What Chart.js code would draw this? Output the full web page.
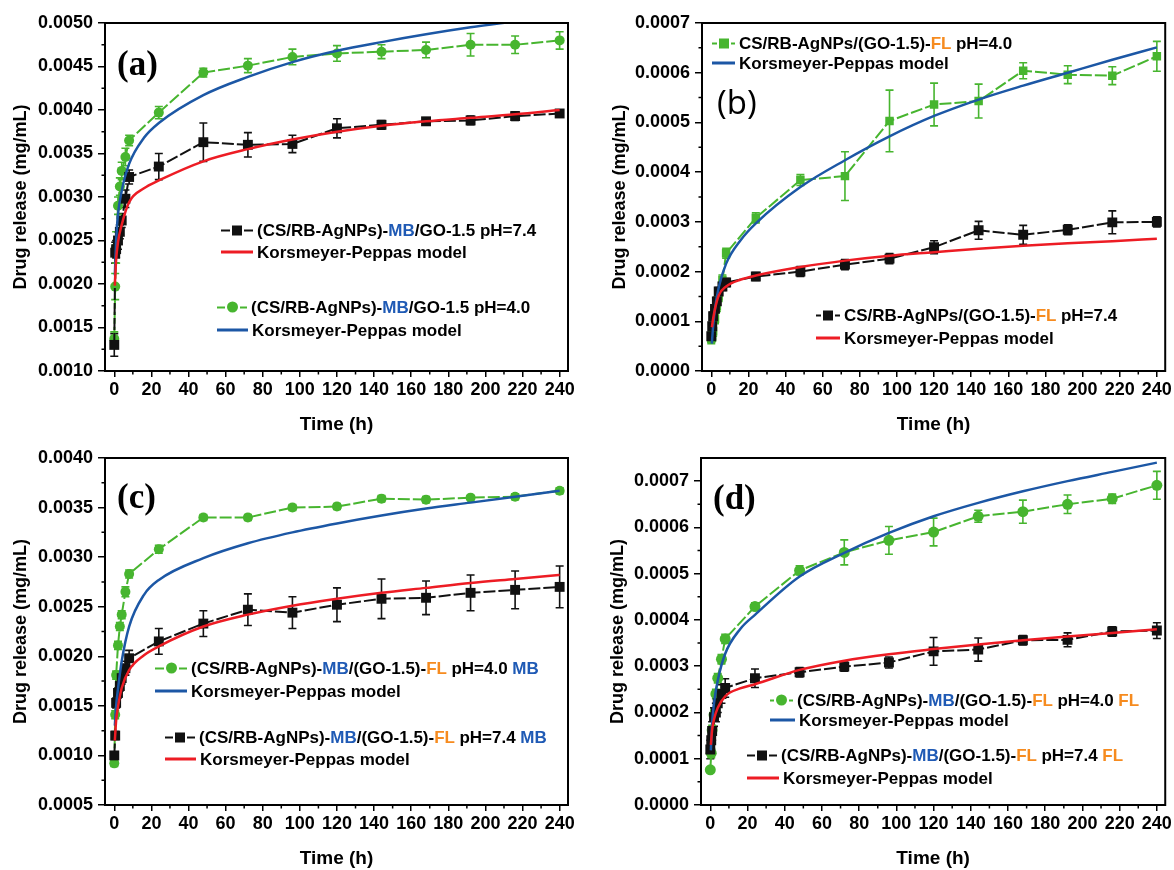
<!DOCTYPE html>
<html>
<head>
<meta charset="utf-8">
<script src="https://cdn.jsdelivr.net/npm/chart.js@4.4.1/dist/chart.umd.min.js"></script>
<style>
  html, body { margin: 0; padding: 0; background: #fff; overflow: hidden; }
  #wrap { position: relative; width: 1174px; height: 870px; font-family: "Liberation Sans", Arial, sans-serif; }
  #wrap canvas { position: absolute; }
  .lg { position: absolute; display: flex; align-items: center; font-weight: bold; font-size: 17px;
        white-space: nowrap; transform: translateY(-50%); color: #000; line-height: 1; }
  .smp { display: flex; align-items: center; flex: none; }
  .mb { color: #1f5ab5; }
  .fl { color: #f68b1f; }
  .tag { position: absolute; transform: translateY(-50%); line-height: 1; color: #000; }
  .serif { font-family: "Liberation Serif", "Times New Roman", serif; font-weight: bold; font-size: 35px; }
  .sans { font-family: "Open Sans", "Noto Sans", sans-serif; font-size: 33px; }
</style>
</head>
<body>
<div id="wrap">
  <canvas id="chartA" width="587" height="436" style="left:0;top:0"></canvas>
  <canvas id="chartB" width="587" height="436" style="left:587px;top:0"></canvas>
  <canvas id="chartC" width="587" height="436" style="left:0;top:434px"></canvas>
  <canvas id="chartD" width="587" height="436" style="left:587px;top:434px"></canvas>
  <div class="tag serif" style="left:117px;top:63px">(a)</div>
  <div class="tag sans" style="left:717px;top:101px">(b)</div>
  <div class="tag serif" style="left:117px;top:496px">(c)</div>
  <div class="tag serif" style="left:713px;top:497px">(d)</div>
</div>
<script>
// sampling times (h) of the measured points
const T = [0, 0.5, 1, 2, 3, 4, 6, 8, 24, 48, 72, 96, 120, 144, 168, 192, 216, 240];
const FIT_T = [0.3, 1, 2, 4, 8, 16, 24, 48, 72, 96, 120, 144, 168, 192, 216, 240];

const X_TICKS = [0, 20, 40, 60, 80, 100, 120, 140, 160, 180, 200, 220, 240];
const X_MINOR = [10, 30, 50, 70, 90, 110, 130, 150, 170, 190, 210, 230];

// (a) MB/GO-1.5
const A_Y_TICKS = [0.001, 0.0015, 0.002, 0.0025, 0.003, 0.0035, 0.004, 0.0045, 0.005];
const A_Y_MINOR = [0.00125, 0.00175, 0.00225, 0.00275, 0.00325, 0.00375, 0.00425, 0.00475];
const A_PH74 = [0.0013, 0.00236, 0.0024, 0.0025, 0.0026, 0.00273, 0.00298, 0.00323, 0.00335, 0.00363, 0.0036, 0.00361, 0.00379, 0.00383, 0.00387, 0.00388, 0.00393, 0.00396];
const A_PH74_ERR = [0.00013, 0.00012, 0.0001, 0.0001, 0.00008, 0.00008, 0.0001, 0.00008, 0.00015, 0.00022, 0.00014, 0.0001, 0.00011, 0.00005, 0.00004, 0.00005, 0.00005, 0.00004];
const A_PH40 = [0.00137, 0.00197, 0.00242, 0.0029, 0.00312, 0.0033, 0.00346, 0.00365, 0.00397, 0.00443, 0.00451, 0.00461, 0.00465, 0.00467, 0.00469, 0.00475, 0.00475, 0.0048];
const A_PH40_ERR = [0.00008, 0.00015, 0.00018, 0.0001, 0.0001, 0.0001, 0.0001, 0.00006, 0.00007, 0.00005, 0.00008, 0.00009, 0.00009, 0.00008, 0.00009, 0.00013, 0.0001, 0.0001];
const A_FIT74 = [0.00198, 0.00228, 0.00248, 0.00268, 0.00294, 0.0031, 0.00319, 0.00341, 0.00355, 0.00366, 0.00375, 0.00382, 0.00387, 0.00391, 0.00395, 0.004];
const A_FIT40 = [0.0021, 0.0025, 0.0028, 0.00307, 0.00338, 0.00368, 0.00385, 0.00417, 0.00438, 0.00455, 0.00468, 0.00478, 0.00487, 0.00495, 0.00502, 0.00509];

// (b) GO-1.5/FL
const B_Y_TICKS = [0, 0.0001, 0.0002, 0.0003, 0.0004, 0.0005, 0.0006, 0.0007];
const B_Y_MINOR = [0.00005, 0.00015, 0.00025, 0.00035, 0.00045, 0.00055, 0.00065];
const B_PH40 = [0.000065, 0.00007, 0.00008, 0.000105, 0.00013, 0.00015, 0.000183, 0.000237, 0.000308, 0.000384, 0.000392, 0.000503, 0.000536, 0.000543, 0.000604, 0.000596, 0.000594, 0.000633];
const B_PH40_ERR = [0.00001, 0.00001, 0.00001, 0.00001, 0.00001, 0.00001, 0.00001, 0.00001, 0.00001, 0.000011, 0.000049, 0.000062, 0.000043, 0.000034, 0.000016, 0.000018, 0.000018, 0.00003];
const B_PH74 = [0.00007, 0.00009, 0.00011, 0.000125, 0.00014, 0.00016, 0.00017, 0.000178, 0.00019, 0.0002, 0.000214, 0.000226, 0.000249, 0.000283, 0.000274, 0.000284, 0.000299, 0.0003];
const B_PH74_ERR = [0.000008, 0.000008, 0.000008, 0.000008, 0.000008, 0.000008, 0.000008, 0.000008, 0.000008, 0.00001, 0.00001, 0.00001, 0.000013, 0.000018, 0.000019, 0.00001, 0.000023, 0.00001];
const B_FIT40 = [0.000055, 0.00009, 0.000125, 0.000168, 0.000216, 0.000264, 0.000297, 0.00037, 0.000424, 0.000472, 0.000513, 0.000546, 0.000574, 0.0006, 0.000626, 0.000651];
const B_FIT74 = [0.000088, 0.000105, 0.000125, 0.000152, 0.00017, 0.000184, 0.000192, 0.000209, 0.000222, 0.000232, 0.000239, 0.000246, 0.000252, 0.000257, 0.000261, 0.000266];

// (c) MB/(GO-1.5)-FL, MB release
const C_Y_TICKS = [0.0005, 0.001, 0.0015, 0.002, 0.0025, 0.003, 0.0035, 0.004];
const C_Y_MINOR = [0.00075, 0.00125, 0.00175, 0.00225, 0.00275, 0.00325, 0.00375];
const C_PH40 = [0.00092, 0.00141, 0.00181, 0.00211, 0.0023, 0.00242, 0.00265, 0.00283, 0.00308, 0.0034, 0.0034, 0.0035, 0.00351, 0.00359, 0.00358, 0.0036, 0.00361, 0.00367];
const C_PH40_ERR = [0.00003, 0.00004, 0.00004, 0.00004, 0.00004, 0.00004, 0.00005, 0.00004, 0.00004, 0.00003, 0.00003, 0.00003, 0.00003, 0.00003, 0.00003, 0.00002, 0.00003, 0.00003];
const C_PH74 = [0.001, 0.0012, 0.00153, 0.00163, 0.0017, 0.00178, 0.00188, 0.00198, 0.00215, 0.00233, 0.00247, 0.00244, 0.00252, 0.00258, 0.00259, 0.00264, 0.00267, 0.0027];
const C_PH74_ERR = [0.00003, 0.00004, 0.00005, 0.00005, 0.00005, 0.00006, 0.00007, 0.00008, 0.00013, 0.00013, 0.00016, 0.00016, 0.00017, 0.0002, 0.00017, 0.00018, 0.00019, 0.00021];
const C_FIT40 = [0.0013, 0.0015, 0.00167, 0.00195, 0.0023, 0.00262, 0.00277, 0.00299, 0.00314, 0.00325, 0.00334, 0.00342, 0.00349, 0.00355, 0.00361, 0.00367];
const C_FIT74 = [0.00115, 0.00135, 0.00149, 0.00168, 0.00186, 0.00201, 0.0021, 0.0023, 0.00242, 0.00251, 0.00258, 0.00264, 0.00269, 0.00274, 0.00278, 0.00282];

// (d) MB/(GO-1.5)-FL, FL release
const D_Y_TICKS = [0, 0.0001, 0.0002, 0.0003, 0.0004, 0.0005, 0.0006, 0.0007];
const D_Y_MINOR = [0.00005, 0.00015, 0.00025, 0.00035, 0.00045, 0.00055, 0.00065];
const D_PH40 = [0.000076, 0.000112, 0.000162, 0.000195, 0.00024, 0.000274, 0.000315, 0.000359, 0.000429, 0.000507, 0.000546, 0.000572, 0.00059, 0.000624, 0.000634, 0.00065, 0.000662, 0.000691];
const D_PH40_ERR = [0.000005, 0.00001, 0.00001, 0.00001, 0.00001, 0.00001, 0.00001, 0.00001, 0.000008, 0.00001, 0.000027, 0.00003, 0.00003, 0.000013, 0.000025, 0.00002, 0.00001, 0.00003];
const D_PH74 = [0.00012, 0.00014, 0.00016, 0.00019, 0.0002, 0.00022, 0.00024, 0.000253, 0.000274, 0.000287, 0.000299, 0.000308, 0.000332, 0.000336, 0.000356, 0.000357, 0.000375, 0.000377];
const D_PH74_ERR = [0.00002, 0.00002, 0.00002, 0.00002, 0.00002, 0.00002, 0.00002, 0.00002, 0.00002, 0.00001, 0.00001, 0.000012, 0.00003, 0.000025, 0.00001, 0.000015, 0.00001, 0.000017];
const D_FIT40 = [0.000118, 0.000177, 0.00022, 0.000269, 0.000327, 0.00038, 0.000411, 0.000494, 0.000545, 0.000588, 0.000624, 0.000653, 0.000678, 0.0007, 0.00072, 0.00074];
const D_FIT74 = [0.00013, 0.000163, 0.000185, 0.00021, 0.000235, 0.000252, 0.000261, 0.000292, 0.000312, 0.000326, 0.000337, 0.000347, 0.000356, 0.000364, 0.000372, 0.00038];

const BLACK = '#111111';
const GREEN = '#47b52f';
const RED = '#ed1c24';
const BLUE = '#1c57a5';

const FONT = '"Liberation Sans", Arial, sans-serif';
const TICK_FONT = { family: FONT, size: 18, weight: 'bold' };

// error bars, drawn under the markers
const errorBars = {
  id: 'errorBars',
  beforeDatasetsDraw(chart) {
    const { ctx } = chart;
    const xs = chart.scales.x, ys = chart.scales.y;
    chart.data.datasets.forEach(ds => {
      if (!ds.errs) return;
      ctx.save();
      ctx.strokeStyle = ds.borderColor;
      ctx.lineWidth = 1.6;
      ctx.beginPath();
      ds.data.forEach((pt, i) => {
        const x = xs.getPixelForValue(pt.x);
        const y1 = ys.getPixelForValue(pt.y - ds.errs[i]);
        const y2 = ys.getPixelForValue(pt.y + ds.errs[i]);
        ctx.moveTo(x, y1); ctx.lineTo(x, y2);
        ctx.moveTo(x - 4, y1); ctx.lineTo(x + 4, y1);
        ctx.moveTo(x - 4, y2); ctx.lineTo(x + 4, y2);
      });
      ctx.stroke();
      ctx.restore();
    });
  }
};

// minor ticks + closed frame
const frameTicks = {
  id: 'frameTicks',
  afterDraw(chart, args, opts) {
    const { ctx, chartArea: ca } = chart;
    ctx.save();
    ctx.strokeStyle = '#000';
    ctx.lineWidth = 1.5;
    ctx.beginPath();
    (opts.x || []).forEach(v => {
      const px = chart.scales.x.getPixelForValue(v);
      ctx.moveTo(px, ca.bottom); ctx.lineTo(px, ca.bottom + 3.5);
    });
    (opts.y || []).forEach(v => {
      const py = chart.scales.y.getPixelForValue(v);
      ctx.moveTo(ca.left, py); ctx.lineTo(ca.left - 3.5, py);
    });
    ctx.stroke();
    ctx.lineWidth = 2;
    ctx.strokeRect(ca.left, ca.top, ca.right - ca.left, ca.bottom - ca.top);
    ctx.restore();
  }
};

function pts(xs, ys) {
  return xs.map((x, i) => ({ x, y: ys[i] }));
}

function dataSet(vals, errs, color, style, radius) {
  return {
    data: pts(T, vals), errs,
    borderColor: color, backgroundColor: color,
    borderWidth: 2, borderDash: [12, 3],
    pointStyle: style, pointRadius: radius, pointBorderWidth: 0,
    tension: 0, order: 2
  };
}

function fitSet(vals, color) {
  return {
    data: pts(FIT_T, vals),
    borderColor: color, borderWidth: 2.5,
    pointRadius: 0, cubicInterpolationMode: 'monotone', fill: false, order: 1
  };
}

function makePanel(id, p) {
  new Chart(document.getElementById(id), {
    type: 'line',
    data: { datasets: p.datasets },
    options: {
      responsive: false,
      animation: false,
      events: [],
      layout: { padding: p.pad },
      plugins: {
        legend: { display: false },
        tooltip: { enabled: false },
        frameTicks: { x: X_MINOR, y: p.yMinor }
      },
      scales: {
        x: {
          type: 'linear', min: -5, max: 244.5,
          afterBuildTicks: s => { s.ticks = X_TICKS.map(v => ({ value: v })); },
          afterFit: s => { s.height = 65; },
          ticks: { font: TICK_FONT, color: '#000', padding: 2, maxRotation: 0, autoSkip: false },
          grid: { drawOnChartArea: false, tickLength: 6, color: '#000', lineWidth: 1.5 },
          border: { color: '#000', width: 2 },
          title: { display: true, text: 'Time (h)', color: '#000',
                   font: { family: FONT, size: 19, weight: 'bold' }, padding: { top: 0, bottom: 0 } }
        },
        y: {
          type: 'linear', min: p.yMin, max: p.yMax,
          afterBuildTicks: s => { s.ticks = p.yTicks.map(v => ({ value: v })); },
          afterFit: s => { s.width = p.yW; },
          ticks: { font: TICK_FONT, color: '#000', padding: 5, autoSkip: false,
                   callback: v => v.toFixed(4) },
          grid: { drawOnChartArea: false, tickLength: 7, color: '#000', lineWidth: 1.5 },
          border: { color: '#000', width: 2 },
          title: { display: true, text: 'Drug release (mg/mL)', color: '#000',
                   font: { family: FONT, size: 18, weight: 'bold' }, padding: { top: p.yTitlePad, bottom: 0 } }
        }
      }
    },
    plugins: [errorBars, frameTicks]
  });
}

makePanel('chartA', {
  pad: { left: 0, top: 23, right: 19, bottom: 0 }, yW: 105, yTitlePad: 10,
  yMin: 0.001, yMax: 0.005, yTicks: A_Y_TICKS, yMinor: A_Y_MINOR,
  datasets: [
    fitSet(A_FIT74, RED), fitSet(A_FIT40, BLUE),
    dataSet(A_PH74, A_PH74_ERR, BLACK, 'rect', 7),
    dataSet(A_PH40, A_PH40_ERR, GREEN, 'circle', 5)
  ]
});

makePanel('chartB', {
  pad: { left: 0, top: 23, right: 7, bottom: 0 }, yW: 115, yTitlePad: 22,
  yMin: 0, yMax: 0.0007, yTicks: B_Y_TICKS, yMinor: B_Y_MINOR,
  datasets: [
    fitSet(B_FIT74, RED), fitSet(B_FIT40, BLUE),
    dataSet(B_PH74, B_PH74_ERR, BLACK, 'rect', 7),
    dataSet(B_PH40, B_PH40_ERR, GREEN, 'rect', 6)
  ]
});

makePanel('chartC', {
  pad: { left: 0, top: 24, right: 19, bottom: 0 }, yW: 105, yTitlePad: 10,
  yMin: 0.0005, yMax: 0.004, yTicks: C_Y_TICKS, yMinor: C_Y_MINOR,
  datasets: [
    fitSet(C_FIT74, RED), fitSet(C_FIT40, BLUE),
    dataSet(C_PH74, C_PH74_ERR, BLACK, 'rect', 7),
    dataSet(C_PH40, C_PH40_ERR, GREEN, 'circle', 5)
  ]
});

makePanel('chartD', {
  pad: { left: 0, top: 24, right: 7, bottom: 0 }, yW: 114, yTitlePad: 20,
  yMin: 0, yMax: 0.00075, yTicks: D_Y_TICKS, yMinor: D_Y_MINOR,
  datasets: [
    fitSet(D_FIT74, RED), fitSet(D_FIT40, BLUE),
    dataSet(D_PH74, D_PH74_ERR, BLACK, 'rect', 7),
    dataSet(D_PH40, D_PH40_ERR, GREEN, 'circle', 5.5)
  ]
});

// legends (multi-coloured text, so built as HTML)
const wrap = document.getElementById('wrap');

function legendRow(x, y, w, kind, color, html) {
  const row = document.createElement('div');
  row.className = 'lg';
  row.style.left = x + 'px';
  row.style.top = y + 'px';
  let sample;
  if (kind === 'line') {
    sample = `<span class="smp" style="width:${w}px"><span style="width:${w - 4}px;height:2.5px;background:${color}"></span></span>`;
  } else {
    const size = kind === 'circle' ? 11 : 10;
    const seg = (w - size - 8) / 2;
    const r = kind === 'circle' ? '50%' : '0';
    sample = `<span class="smp" style="width:${w}px">` +
      `<span style="width:${seg}px;height:2px;background:${color}"></span>` +
      `<span style="width:${size}px;height:${size}px;margin:0 2px;border-radius:${r};background:${color}"></span>` +
      `<span style="width:${seg}px;height:2px;background:${color}"></span></span>`;
  }
  row.innerHTML = sample + `<span>${html}</span>`;
  wrap.appendChild(row);
}

const KP = 'Korsmeyer-Peppas model';
const MB = '<span class="mb">MB</span>';
const FL = '<span class="fl">FL</span>';

legendRow(221, 230, 36, 'rect', BLACK, `(CS/RB-AgNPs)-${MB}/GO-1.5 pH=7.4`);
legendRow(221, 252, 36, 'line', RED, KP);
legendRow(217, 307, 34, 'circle', GREEN, `(CS/RB-AgNPs)-${MB}/GO-1.5 pH=4.0`);
legendRow(217, 330, 35, 'line', BLUE, KP);

legendRow(712, 43, 27, 'rect', GREEN, `CS/RB-AgNPs/(GO-1.5)-${FL} pH=4.0`);
legendRow(712, 63, 27, 'line', BLUE, KP);
legendRow(816, 315, 28, 'rect', BLACK, `CS/RB-AgNPs/(GO-1.5)-${FL} pH=7.4`);
legendRow(816, 338, 28, 'line', RED, KP);

legendRow(155, 668, 36, 'circle', GREEN, `(CS/RB-AgNPs)-${MB}/(GO-1.5)-${FL} pH=4.0 ${MB}`);
legendRow(155, 691, 36, 'line', BLUE, KP);
legendRow(165, 737, 34, 'rect', BLACK, `(CS/RB-AgNPs)-${MB}/(GO-1.5)-${FL} pH=7.4 ${MB}`);
legendRow(165, 759, 35, 'line', RED, KP);

legendRow(770, 700, 27, 'circle', GREEN, `(CS/RB-AgNPs)-${MB}/(GO-1.5)-${FL} pH=4.0 ${FL}`);
legendRow(770, 720, 29, 'line', BLUE, KP);
legendRow(747, 755, 34, 'rect', BLACK, `(CS/RB-AgNPs)-${MB}/(GO-1.5)-${FL} pH=7.4 ${FL}`);
legendRow(747, 778, 36, 'line', RED, KP);
</script>
</body>
</html>
